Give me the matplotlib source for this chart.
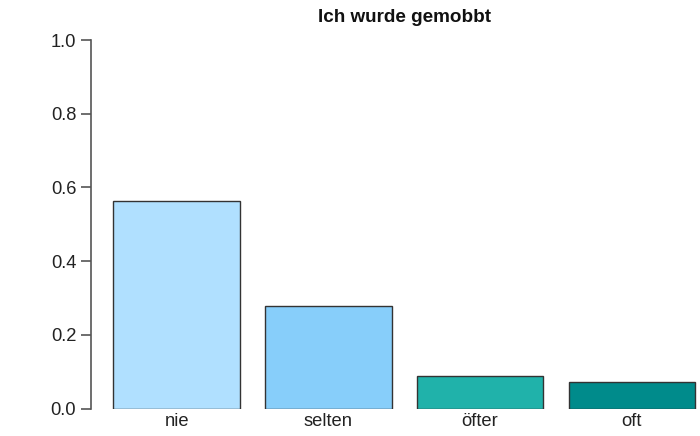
import matplotlib
matplotlib.use("Agg")
import matplotlib.pyplot as plt
import numpy as np

categories = ["nie", "selten", "öfter", "oft"]
values = [0.5625, 0.2785, 0.088, 0.0716]
colors = ["#B0E0FF", "#87CEFA", "#20B2AA", "#008B8B"]
yticks = [0.0, 0.2, 0.4, 0.6, 0.8, 1.0]

plt.rcParams["font.family"] = ["Liberation Sans", "DejaVu Sans"]

fig = plt.figure(figsize=(7, 4.36), dpi=100)
ax = fig.add_axes([0.1296, 0.0626, 0.8704, 0.8456])

# R barplot style: width 1, space 0.2
x = 0.2 + np.arange(len(categories)) * 1.2 + 0.5
ax.bar(x, values, width=1.0, color=colors, edgecolor="#333333", linewidth=1.0, zorder=3)

ax.set_xlim(0.02, 4.84)
ax.set_ylim(0, 1.0)
ax.set_yticks(yticks)
ax.set_yticklabels([f"{t:.1f}" for t in yticks])
ax.set_xticks(x)
ax.set_xticklabels(categories)

for s in ["top", "right", "bottom"]:
    ax.spines[s].set_visible(False)
ax.spines["left"].set_color("#555555")
ax.spines["left"].set_linewidth(1.2)
ax.spines["left"].set_bounds(0, 1)

ax.tick_params(axis="y", length=7.5, width=1.2, color="#555555", labelsize=13.2, pad=3, labelcolor="#222222")
ax.tick_params(axis="x", length=0, labelsize=13.2, pad=3, labelcolor="#222222")

fig.text(404 / 700, 1 - 18 / 436, "Ich wurde gemobbt", ha="center", va="center",
         fontsize=13.6, fontweight="bold", color="#111111")

fig.savefig("out.png", dpi=100)
